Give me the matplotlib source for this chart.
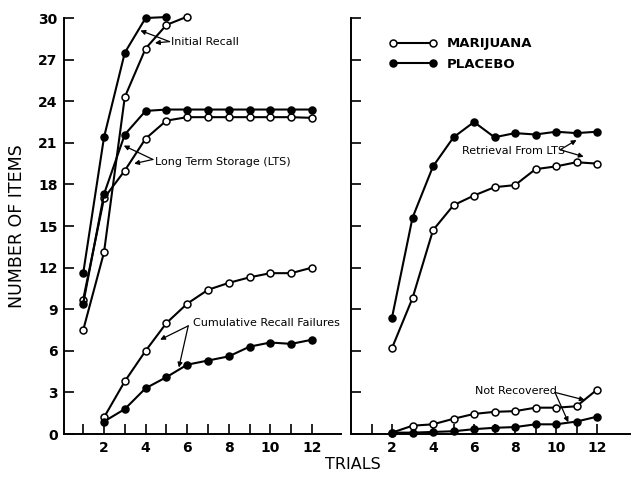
#!/usr/bin/env python

""" free recall of items over trials, marijuana vs placebo """

import matplotlib
matplotlib.use("Agg")
import matplotlib.pyplot as plt
from matplotlib.lines import Line2D

trials = list(range(1, 13))
trials2 = list(range(2, 13))

# left panel
ir_mj = [7.5, 13.1, 24.3, 27.8, 29.5, 30.1]
ir_pl = [11.6, 21.4, 27.5, 30.0, 30.07]
lts_mj = [9.7, 17.0, 19.0, 21.3, 22.6, 22.85, 22.85, 22.85, 22.85, 22.85,
          22.85, 22.8]
lts_pl = [9.4, 17.3, 21.6, 23.3, 23.4, 23.4, 23.4, 23.4, 23.4, 23.4, 23.4,
          23.4]
crf_mj = [1.2, 3.8, 6.0, 8.0, 9.4, 10.4, 10.9, 11.3, 11.6, 11.6, 12.0]
crf_pl = [0.9, 1.8, 3.3, 4.1, 5.0, 5.3, 5.6, 6.3, 6.6, 6.5, 6.8]

# right panel
ret_mj = [6.2, 9.8, 14.7, 16.5, 17.2, 17.8, 17.95, 19.1, 19.3, 19.6, 19.5]
ret_pl = [8.4, 15.6, 19.3, 21.4, 22.5, 21.4, 21.7, 21.6, 21.8, 21.7, 21.8]
nr_mj = [0.1, 0.6, 0.7, 1.1, 1.45, 1.6, 1.65, 1.9, 1.9, 2.0, 3.2]
nr_pl = [0.1, 0.1, 0.15, 0.2, 0.35, 0.45, 0.5, 0.7, 0.7, 0.9, 1.25]

yticks = [0, 3, 6, 9, 12, 15, 18, 21, 24, 27, 30]
xlabels = ["", "2", "", "4", "", "6", "", "8", "", "10", "", "12"]

MJ = dict(color="black", lw=1.5, marker="o", ms=5, mfc="white",
          mec="black", mew=1.1, clip_on=False, zorder=3)
PL = dict(color="black", lw=1.5, marker="o", ms=5, mfc="black",
          mec="black", mew=1.1, clip_on=False, zorder=3)
ARR = dict(arrowstyle="-|>", color="black", lw=0.9, mutation_scale=7,
           shrinkA=0, shrinkB=0)


def style_axis(ax, xmax, left_labels):
    for s in ("top", "right"):
        ax.spines[s].set_visible(False)
    for s in ("left", "bottom"):
        ax.spines[s].set_linewidth(1.4)
    ax.set_ylim(0, 30)
    ax.set_xlim(0.1 if left_labels else 0, xmax)
    ax.set_yticks(yticks)
    ax.set_xticks(trials)
    ax.set_xticklabels(xlabels, fontsize=10, fontweight="bold")
    if left_labels:
        ax.set_yticklabels([str(v) for v in yticks], fontsize=10,
                           fontweight="bold")
    else:
        ax.set_yticklabels([])
    ax.tick_params(direction="in", length=7, width=1.2, pad=5)


def arrows(ax, start, targets):
    for t in targets:
        ax.annotate("", xy=t, xytext=start, arrowprops=ARR)


def main():
    fig = plt.figure(figsize=(6.36, 4.78), dpi=100)
    ax1 = fig.add_axes([0.1014, 0.092, 0.4349, 0.8703])
    ax2 = fig.add_axes([0.5519, 0.092, 0.4384, 0.8703])

    # left panel
    ax1.plot(trials[:6], ir_mj, **MJ)
    ax1.plot(trials[:5], ir_pl, **PL)
    ax1.plot(trials, lts_mj, **MJ)
    ax1.plot(trials, lts_pl, **PL)
    ax1.plot(trials2, crf_mj, **MJ)
    ax1.plot(trials2, crf_pl, **PL)
    style_axis(ax1, 13.4, True)
    ax1.set_ylabel("NUMBER OF ITEMS", fontsize=12.5, labelpad=9)

    ax1.text(5.2, 28.3, "Initial Recall", fontsize=8, va="center")
    arrows(ax1, (5.15, 28.3), [(3.75, 29.1), (4.45, 28.2)])
    ax1.text(4.45, 19.6, "Long Term Storage (LTS)", fontsize=8, va="center")
    arrows(ax1, (4.35, 19.8), [(2.95, 20.8), (3.45, 19.5)])
    ax1.text(6.3, 8.0, "Cumulative Recall Failures", fontsize=8, va="center")
    arrows(ax1, (6.05, 7.8), [(4.7, 6.8), (5.6, 4.8)])

    # right panel
    ax2.plot(trials2, ret_mj, **MJ)
    ax2.plot(trials2, ret_pl, **PL)
    ax2.plot(trials2, nr_mj, **MJ)
    ax2.plot(trials2, nr_pl, **PL)
    style_axis(ax2, 13.6, False)

    ax2.text(5.4, 20.4, "Retrieval From LTS", fontsize=8, va="center")
    arrows(ax2, (10.2, 20.5), [(11.0, 21.2), (11.35, 20.0)])
    ax2.text(6.05, 3.1, "Not Recovered", fontsize=8, va="center")
    arrows(ax2, (9.95, 3.0), [(11.4, 2.45), (10.6, 0.85)])

    handles = [Line2D([], [], **MJ), Line2D([], [], **PL)]
    ax2.legend(handles, ["MARIJUANA", "PLACEBO"], numpoints=2,
               frameon=False, loc="upper left",
               bbox_to_anchor=(0.095, 0.982), handlelength=3.6,
               handletextpad=0.75, labelspacing=0.55,
               prop=dict(size=9.5, weight="bold"))

    fig.text(0.555, 0.012, "TRIALS", fontsize=11.5, ha="center",
             va="bottom")

    fig.savefig("out.png", dpi=100)


if __name__ == "__main__":

    main()
